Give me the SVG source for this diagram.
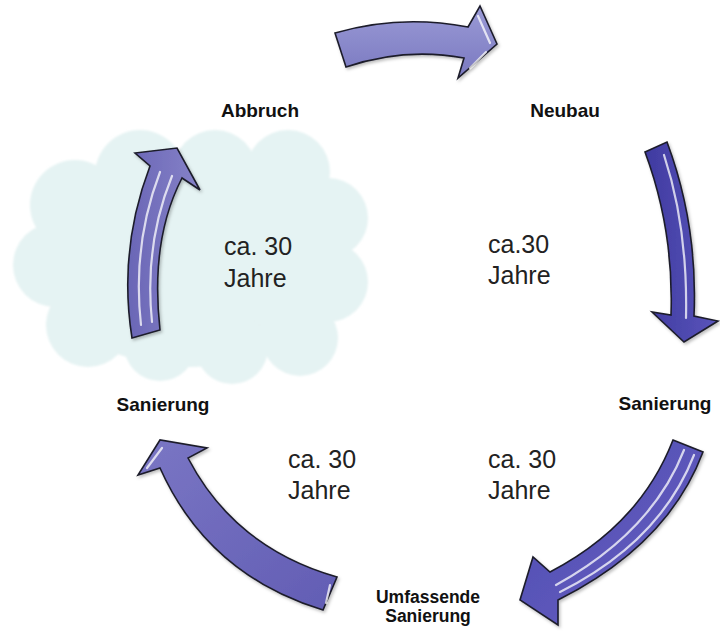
<svg xmlns="http://www.w3.org/2000/svg" width="720" height="632" viewBox="0 0 720 632">
<defs>
<style>
.lbl{font-family:"Liberation Sans",Arial,sans-serif;font-weight:bold;font-size:19px;fill:#111;text-anchor:middle}
.lbl2{font-family:"Liberation Sans",Arial,sans-serif;font-weight:bold;font-size:17.5px;fill:#111;text-anchor:middle}
.dur{font-family:"Liberation Sans",Arial,sans-serif;font-size:25px;fill:#222}
.arrow{stroke:#1c1c2a;stroke-width:1.6;stroke-linejoin:miter}
.hl{fill:none;stroke:#ffffff;stroke-width:2.2;stroke-linecap:round;opacity:0.75}
.cloud{fill:#e5f3f3}
</style>
<filter id="soft" x="-10%" y="-10%" width="120%" height="120%"><feGaussianBlur stdDeviation="1.2"/></filter>
<filter id="shadow" x="-20%" y="-20%" width="140%" height="140%"><feDropShadow dx="1.5" dy="2" stdDeviation="1.5" flood-color="#000" flood-opacity="0.25"/></filter>
<linearGradient id="gTop" x1="0" y1="0" x2="0" y2="1"><stop offset="0" stop-color="#9a9ad6"/><stop offset="1" stop-color="#7a79c0"/></linearGradient>
<linearGradient id="gRight" x1="0" y1="0" x2="1" y2="0"><stop offset="0" stop-color="#3f3aa0"/><stop offset="1" stop-color="#5a55bb"/></linearGradient>
<linearGradient id="gLR" x1="0" y1="0" x2="1" y2="1"><stop offset="0" stop-color="#4e49b0"/><stop offset="1" stop-color="#6762c2"/></linearGradient>
<linearGradient id="gBL" x1="0" y1="0" x2="1" y2="1"><stop offset="0" stop-color="#7a76c4"/><stop offset="1" stop-color="#625db4"/></linearGradient>
<linearGradient id="gLeft" x1="0" y1="0" x2="1" y2="0"><stop offset="0" stop-color="#6a66b6"/><stop offset="1" stop-color="#8682c8"/></linearGradient>
</defs>
<rect width="720" height="632" fill="#ffffff"/>

<g id="cloud" class="cloud" filter="url(#soft)">
<ellipse cx="190" cy="262" rx="150" ry="105"/>
<circle cx="75" cy="205" r="45"/>
<circle cx="140" cy="175" r="45"/>
<circle cx="215" cy="172" r="42"/>
<circle cx="288" cy="172" r="42"/>
<circle cx="328" cy="218" r="40"/>
<circle cx="328" cy="282" r="40"/>
<circle cx="300" cy="338" r="38"/>
<circle cx="232" cy="348" r="36"/>
<circle cx="160" cy="345" r="36"/>
<circle cx="88" cy="325" r="42"/>
<circle cx="55" cy="265" r="42"/>
</g>

<g id="connectors">
<g id="arrow-top" filter="url(#shadow)">
<path class="arrow" fill="url(#gTop)" d="M 335,33 Q 400,14 468,27 L 480,6 L 497,44 L 458,78 L 464,58 Q 405,47 346,67 Z"/>
<path class="hl" d="M 478,16 L 490,43" opacity="0.6"/>
<path class="hl" d="M 470,68 L 486,52" opacity="0.6"/>
</g>
<g id="arrow-right" filter="url(#shadow)">
<path class="arrow" fill="url(#gRight)" d="M 645,152 L 667,142 Q 698,225 694,316 L 718,321 L 684,342 L 652,312 L 671,315 Q 674,230 645,152 Z"/>
<path class="hl" d="M 664,155 Q 688,228 686,318"/>
</g>
<g id="arrow-lowright" filter="url(#shadow)">
<path class="arrow" fill="url(#gLR)" d="M 673,440 L 703,452 Q 668,545 558,600 L 558,625 L 520,600 L 533,557 L 550,572 Q 640,525 673,440 Z"/>
<path class="hl" d="M 684,450 Q 652,532 556,585"/>
<path class="hl" d="M 694,455 Q 660,542 560,592" opacity="0.5"/>
</g>
<g id="arrow-bottomleft" filter="url(#shadow)">
<path class="arrow" fill="url(#gBL)" d="M 337,577 Q 235,548 188,458 L 207,448 L 160,440 L 138,475 L 160,468 Q 208,575 323,610 Z"/>
<path class="hl" d="M 330,585 L 326,603" opacity="0.6"/>
<path class="hl" d="M 162,448 L 147,468" opacity="0.6"/>
</g>
<g id="arrow-left" filter="url(#shadow)">
<path class="arrow" fill="url(#gLeft)" d="M 160,330 Q 150,240 182,178 L 200,190 L 177,148 L 135,153 L 150,166 Q 118,250 132,338 Z"/>
<path class="hl" d="M 141,325 Q 132,245 160,172"/>
<path class="hl" d="M 152,322 Q 144,245 172,176"/>
</g>
</g>

<g id="node-abbruch"><text class="lbl" x="260" y="117">Abbruch</text></g>
<g id="node-neubau"><text class="lbl" x="565" y="117">Neubau</text></g>
<g id="node-sanierung-right"><text class="lbl" x="665" y="410">Sanierung</text></g>
<g id="node-umfassende"><text class="lbl2" x="428" y="603">Umfassende</text><text class="lbl2" x="428" y="622">Sanierung</text></g>
<g id="node-sanierung-left"><text class="lbl" x="163" y="411">Sanierung</text></g>

<g id="durations">
<text class="dur" x="224" y="255">ca. 30</text><text class="dur" x="224" y="287">Jahre</text>
<text class="dur" x="488" y="253">ca.30</text><text class="dur" x="488" y="284">Jahre</text>
<text class="dur" x="288" y="468">ca. 30</text><text class="dur" x="288" y="499">Jahre</text>
<text class="dur" x="488" y="468">ca. 30</text><text class="dur" x="488" y="499">Jahre</text>
</g>
</svg>
